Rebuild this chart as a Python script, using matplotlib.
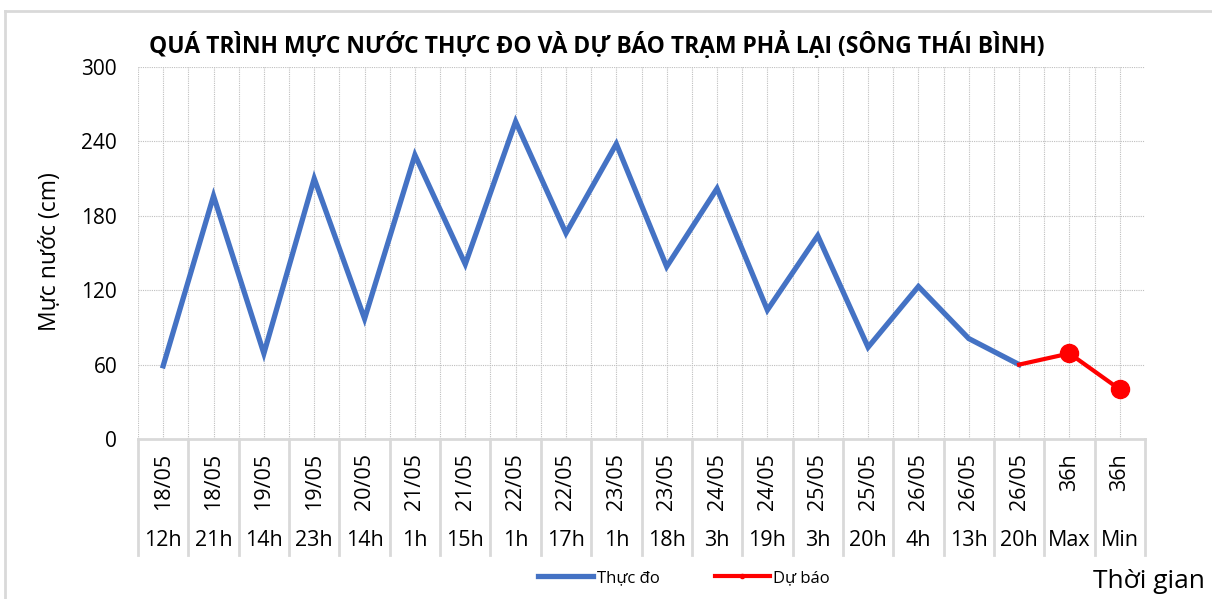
import matplotlib.pyplot as plt
from matplotlib.lines import Line2D

plt.rcParams['font.family'] = ['Open Sans', 'DejaVu Sans']

dates = ["18/05", "18/05", "19/05", "19/05", "20/05", "21/05", "21/05", "22/05",
         "22/05", "23/05", "23/05", "24/05", "24/05", "25/05", "25/05", "26/05",
         "26/05", "26/05", "36h", "36h"]
hours = ["12h", "21h", "14h", "23h", "14h", "1h", "15h", "1h", "17h", "1h",
         "18h", "3h", "19h", "3h", "20h", "4h", "13h", "20h", "Max", "Min"]
observed = [59, 196, 69, 210, 97, 229, 141, 256, 166, 238,
            139, 202, 104, 164, 74, 123, 81, 60]
forecast = [60, 69, 40]

grid_col = "#BFBFBF"
sep_col = "#D9D9D9"
blue = "#4472C4"
red = "#FF0000"

fig = plt.figure(figsize=(12.12, 5.99), dpi=100)
ax = fig.add_axes([138 / 1212, 1 - 439 / 599, 1007 / 1212, 372 / 599])

n = len(dates)
x_obs = list(range(len(observed)))
x_fc = list(range(len(observed) - 1, n))

ax.plot(x_obs, observed, color=blue, lw=3.8, solid_joinstyle='miter', zorder=3)
ax.plot(x_fc, forecast, color=red, lw=3, zorder=4)
ax.plot(x_fc[1:], forecast[1:], 'o', color=red, ms=13, zorder=5)

ax.set_xlim(-0.5, n - 0.5)
ax.set_ylim(0, 300)
ax.set_yticks(range(0, 301, 60))
ax.tick_params(axis='y', length=0, pad=15, labelsize=15)
ax.set_xticks([])

# dotted grid
for v in range(60, 301, 60):
    ax.axhline(v, color=grid_col, lw=0.8, ls=(0, (1, 1)), zorder=1)
for i in range(n):
    ax.axvline(i, color=grid_col, lw=0.8, ls=(0, (1, 1)), zorder=1)
    ax.axvline(i - 0.5, color=grid_col, lw=0.8, ls=(0, (1, 1)), zorder=1)

for s in ['top', 'right', 'left']:
    ax.spines[s].set_visible(False)
ax.spines['bottom'].set_color(sep_col)
ax.spines['bottom'].set_linewidth(2)

# two-level category axis
tr = ax.get_xaxis_transform()
for i in range(n):
    ax.text(i, -14 / 372, dates[i], transform=tr, rotation=90,
            ha='center', va='top', fontsize=15.5)
    ax.text(i, -102 / 372, hours[i], transform=tr,
            ha='center', va='center', fontsize=15.5)
for i in range(n + 1):
    ax.add_line(Line2D([i - 0.5, i - 0.5], [0, -116 / 372], transform=tr,
                       color=sep_col, lw=2, clip_on=False))

fig.text(597 / 1212, 1 - 45 / 599,
         "QUÁ TRÌNH MỰC NƯỚC THỰC ĐO VÀ DỰ BÁO TRẠM PHẢ LẠI (SÔNG THÁI BÌNH)",
         ha='center', va='center', fontsize=16.5, fontweight='bold')
fig.text(50 / 1212, 1 - 252 / 599, "Mực nước (cm)", rotation=90,
         ha='center', va='center', fontsize=16.5)
fig.text(1149 / 1212, 1 - 582 / 599, "Thời gian",
         ha='center', va='center', fontsize=19)

handles = [Line2D([], [], color=blue, lw=3.8),
           Line2D([], [], color=red, lw=3, marker='o', ms=3)]
fig.legend(handles, ["Thực đo", "Dự báo"], loc='center',
           bbox_to_anchor=(684 / 1212, 1 - 578 / 599), ncol=2, frameon=False,
           fontsize=12, handlelength=3.3, columnspacing=3.3, handletextpad=0.2)

# outer chart frame
fig.add_artist(Line2D([5 / 1212, 1], [1 - 11 / 599, 1 - 11 / 599],
                      transform=fig.transFigure, color=sep_col, lw=2))
fig.add_artist(Line2D([5 / 1212, 5 / 1212], [0, 1 - 11 / 599],
                      transform=fig.transFigure, color=sep_col, lw=2))

fig.savefig("out.png", dpi=100)
